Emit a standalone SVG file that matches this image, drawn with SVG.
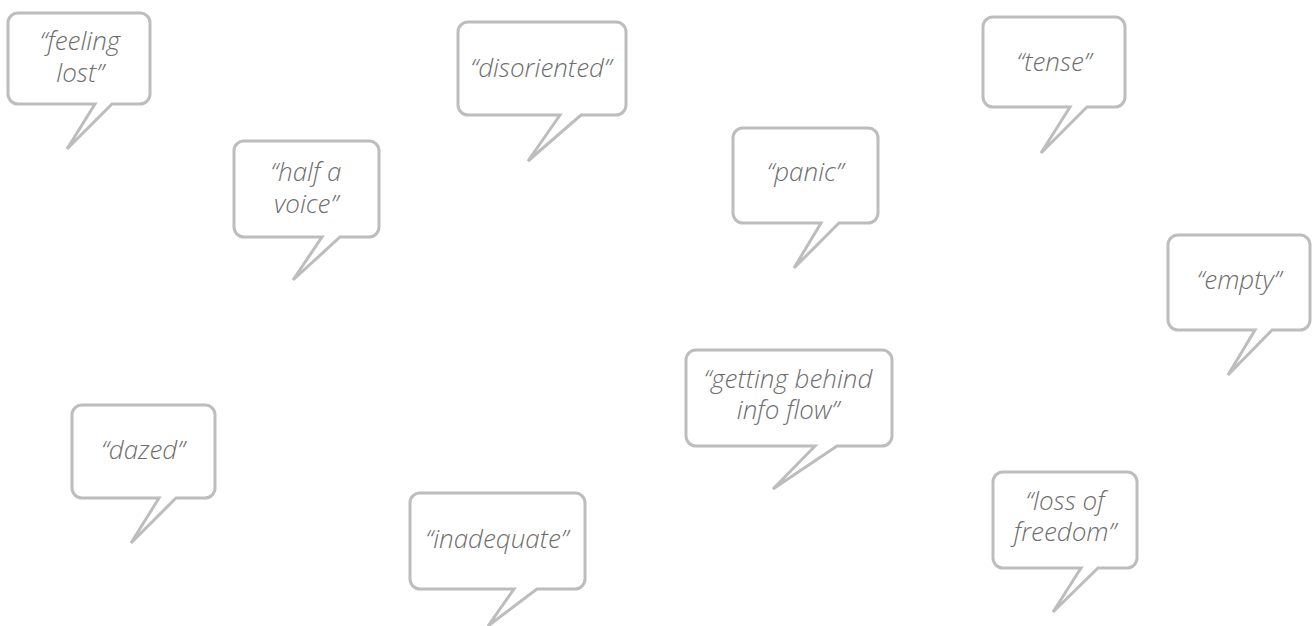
<svg xmlns="http://www.w3.org/2000/svg" width="1315" height="626" viewBox="0 0 1315 626">
<style>
.b{fill:#fff;stroke:#bdbdbd;stroke-width:3;stroke-linejoin:miter}
.t{font-family:"Open Sans","Noto Sans","Liberation Sans",sans-serif;font-style:italic;font-weight:300;font-size:26px;fill:#6e6e6e;text-anchor:middle}
</style>
<rect width="1315" height="626" fill="#fff"/>
<g id="feeling-lost">
<path class="b" d="M18,13 H140 A10,10 0 0 1 150,23 V94 A10,10 0 0 1 140,104 H112 L67,149 L95,104 H18 A10,10 0 0 1 8,94 V23 A10,10 0 0 1 18,13 Z"/>
<text class="t" x="80" y="50">“feeling<tspan x="80" dy="32">lost”</tspan></text>
</g>
<g id="disoriented">
<path class="b" d="M468,22 H616 A10,10 0 0 1 626,32 V105 A10,10 0 0 1 616,115 H581 L528,161 L560,115 H468 A10,10 0 0 1 458,105 V32 A10,10 0 0 1 468,22 Z"/>
<text class="t" x="541" y="77">“disoriented”</text>
</g>
<g id="tense">
<path class="b" d="M993,17 H1115 A10,10 0 0 1 1125,27 V97 A10,10 0 0 1 1115,107 H1087 L1041,153 L1070,107 H993 A10,10 0 0 1 983,97 V27 A10,10 0 0 1 993,17 Z"/>
<text class="t" x="1054" y="71">“tense”</text>
</g>
<g id="half-a-voice">
<path class="b" d="M244,141 H369 A10,10 0 0 1 379,151 V227 A10,10 0 0 1 369,237 H340 L293,280 L322,237 H244 A10,10 0 0 1 234,227 V151 A10,10 0 0 1 244,141 Z"/>
<text class="t" x="306" y="181">“half a<tspan x="306" dy="32">voice”</tspan></text>
</g>
<g id="panic">
<path class="b" d="M743,128 H868 A10,10 0 0 1 878,138 V213 A10,10 0 0 1 868,223 H839 L794,268 L821,223 H743 A10,10 0 0 1 733,213 V138 A10,10 0 0 1 743,128 Z"/>
<text class="t" x="805" y="181">“panic”</text>
</g>
<g id="empty">
<path class="b" d="M1178,235 H1300 A10,10 0 0 1 1310,245 V320 A10,10 0 0 1 1300,330 H1272 L1228,375 L1255,330 H1178 A10,10 0 0 1 1168,320 V245 A10,10 0 0 1 1178,235 Z"/>
<text class="t" x="1239" y="289">“empty”</text>
</g>
<g id="getting-behind">
<path class="b" d="M696,350 H882 A10,10 0 0 1 892,360 V436 A10,10 0 0 1 882,446 H837 L773,489 L815,446 H696 A10,10 0 0 1 686,436 V360 A10,10 0 0 1 696,350 Z"/>
<text class="t" x="788" y="388">“getting behind<tspan x="788" dy="31">info flow”</tspan></text>
</g>
<g id="dazed">
<path class="b" d="M82,405 H205 A10,10 0 0 1 215,415 V488 A10,10 0 0 1 205,498 H176 L131,543 L159,498 H82 A10,10 0 0 1 72,488 V415 A10,10 0 0 1 82,405 Z"/>
<text class="t" x="143" y="459">“dazed”</text>
</g>
<g id="inadequate">
<path class="b" d="M420,493 H575 A10,10 0 0 1 585,503 V579 A10,10 0 0 1 575,589 H537 L488,626 L514,589 H420 A10,10 0 0 1 410,579 V503 A10,10 0 0 1 420,493 Z"/>
<text class="t" x="497" y="548">“inadequate”</text>
</g>
<g id="loss-of-freedom">
<path class="b" d="M1003,472 H1127 A10,10 0 0 1 1137,482 V558 A10,10 0 0 1 1127,568 H1098 L1053,612 L1081,568 H1003 A10,10 0 0 1 993,558 V482 A10,10 0 0 1 1003,472 Z"/>
<text class="t" x="1065" y="510">“loss of<tspan x="1065" dy="31">freedom”</tspan></text>
</g>
<g id="connectors"></g>
</svg>
